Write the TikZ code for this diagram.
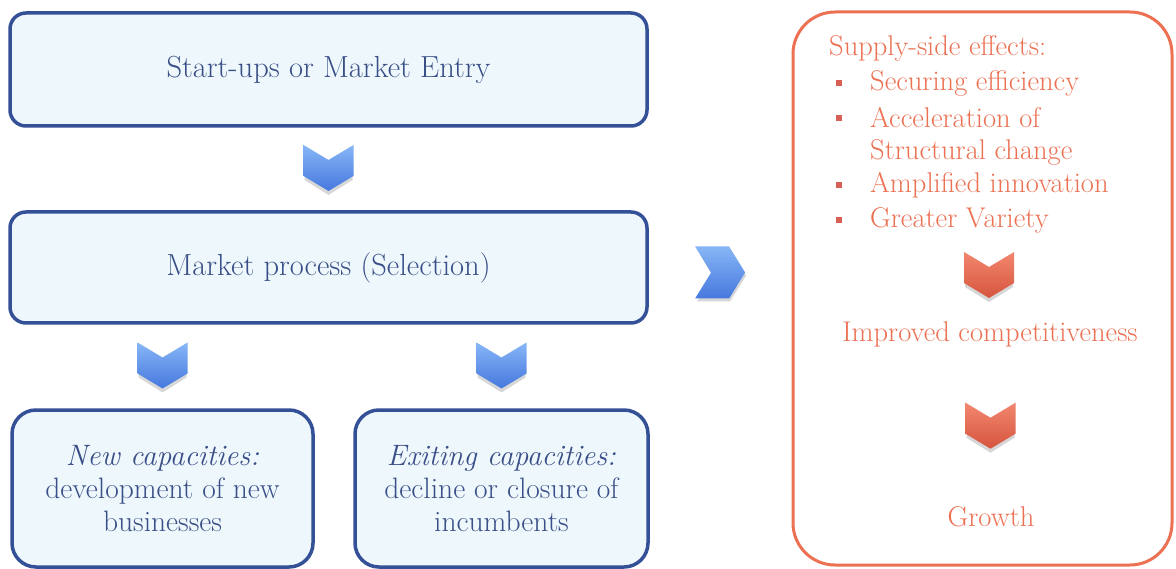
\documentclass[tikz,border=0pt]{standalone}
\usepackage{fontspec}
\usetikzlibrary{positioning, calc, shapes}
\definecolor{box_blue}{RGB}{52,80,150}
\definecolor{box_fill}{RGB}{238,248,252}
\definecolor{text_blue}{RGB}{58,78,135}
\definecolor{chev_light}{RGB}{135,182,246}
\definecolor{chev_dark}{RGB}{70,120,222}
\definecolor{effect_orange}{RGB}{236,112,82}
\definecolor{orange_light}{RGB}{242,135,110}
\definecolor{orange_dark}{RGB}{214,84,62}
\definecolor{bullet_red}{RGB}{215,95,85}
\tikzset{
  bluebox/.style={draw=box_blue, line width=3.5pt, fill=box_fill, rounded corners=16pt,
    text=text_blue, align=center, font=\fontsize{30.5}{33}\selectfont},
  capbox/.style={bluebox, rounded corners=24pt, minimum width=#1, minimum height=157pt,
    font=\fontsize{29.5}{33}\selectfont},
  effectbox/.style={draw=effect_orange, line width=3pt, fill=white, rounded corners=42pt},
  effecttext/.style={text=effect_orange, inner sep=0pt, font=\fontsize{28.5}{34}\selectfont},
  pics/downchev/.style 2 args={code={
    \fill[black!45, opacity=.35] (-24,-20) -- (0,-5) -- (24,-20) -- (24,11) -- (0,26) -- (-24,11) -- cycle;
    \shade[top color=#1, bottom color=#2] (-25,-24) -- (0,-9) -- (25,-24) -- (25,7) -- (0,22) -- (-25,7) -- cycle;
  }},
  pics/rightchev/.style={code={
    \fill[black!45, opacity=.35] (-23,-23) -- (10,-23) -- (26,3) -- (10,29) -- (-23,29) -- (-8,3) -- cycle;
    \shade[top color=chev_light, bottom color=chev_dark] (-25,-26) -- (9,-26) -- (25,0) -- (9,26) -- (-25,26) -- (-9,0) -- cycle;
  }},
}

\begin{document}
\begin{tikzpicture}[x=1pt, y=-1pt, line join=round]
	\useasboundingbox (0,0) rectangle (1176,569);

	% left column
	\node[bluebox, minimum width=637pt, minimum height=113pt] (entry) at (328.5,69.5) {Start-ups or Market Entry};
	\node[bluebox, minimum width=637pt, minimum height=111pt] (market) at (328.5,267.5) {Market process (Selection)};
	\node[capbox=301pt] (newcap) at (162.5,488.5) {\textit{New capacities:}\\development of new\\businesses};
	\node[capbox=293pt] (exitcap) at (501.5,488.5) {\textit{Exiting capacities:}\\decline or closure of\\incumbents};

	\pic at ($(entry.south)!.5!(market.north)$) {downchev={chev_light}{chev_dark}};
	\pic at ($(newcap.north)!.5!(newcap.north |- market.south)$) {downchev={chev_light}{chev_dark}};
	\pic at ($(exitcap.north)!.5!(exitcap.north |- market.south)$) {downchev={chev_light}{chev_dark}};

	% right column
	\node[effectbox, minimum width=379pt, minimum height=553pt] (effects) at (982.5,288.5) {};
	\pic at ($(market.east)!.5!(effects.west |- market.east) + (0,5)$) {rightchev};

	\node[effecttext, anchor=west] (supply) at (829,48) {Supply-side effects:};
	\foreach \y/\txt/\nm in {83/Securing efficiency/secure, 118/Acceleration of/accel,
	    185/Amplified innovation/amplify, 220/Greater Variety/variety} {
	    \fill[bullet_red] (836,\y-3) rectangle ++(6,6);
	    \node[effecttext, anchor=west] (\nm) at (870,\y) {\txt};
	}
	\node[effecttext, anchor=west] (struct) at (870,152) {Structural change};

	\node[effecttext] (compete) at (990,334) {Improved competitiveness};
	\node[effecttext] (growth) at (991,517) {Growth};
	\pic at (989,276) {downchev={orange_light}{orange_dark}};
	\pic at ($(compete.south)!.5!(growth.north)$) {downchev={orange_light}{orange_dark}};
\end{tikzpicture}
\end{document}
